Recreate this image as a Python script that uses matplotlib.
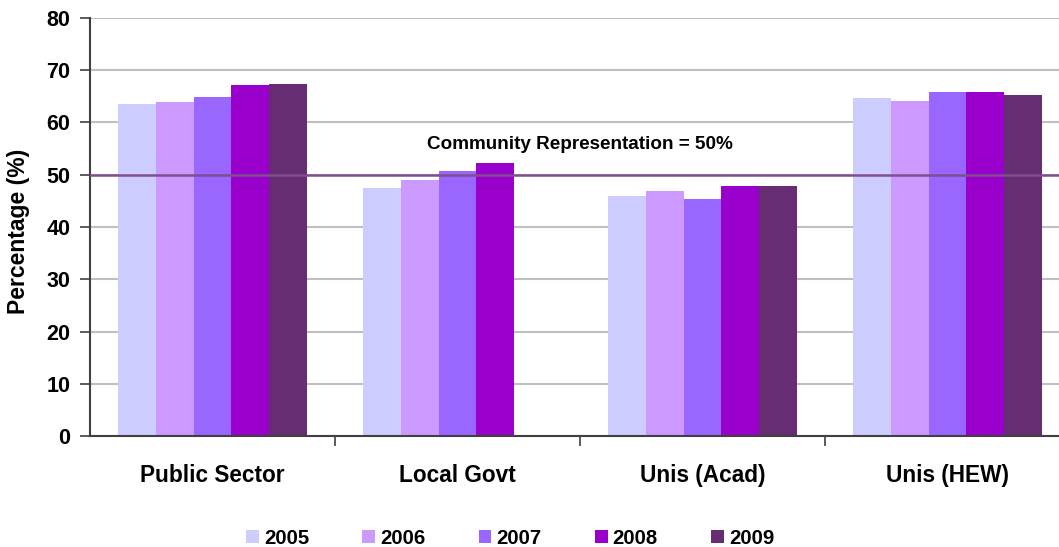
import matplotlib
matplotlib.use("Agg")
import matplotlib.pyplot as plt
import numpy as np
from matplotlib.patches import Patch

plt.rcParams["font.family"] = ["Liberation Sans", "DejaVu Sans"]
plt.rcParams["font.weight"] = "bold"

categories = ["Public Sector", "Local Govt", "Unis (Acad)", "Unis (HEW)"]
years = ["2005", "2006", "2007", "2008", "2009"]
v2005 = [63.6, 47.4, 45.9, 64.6]
v2006 = [64.0, 49.0, 46.9, 64.2]
v2007 = [64.8, 50.7, 45.3, 65.8]
v2008 = [67.1, 52.2, 47.8, 65.8]
v2009 = [67.3, np.nan, 47.8, 65.2]
series = [v2005, v2006, v2007, v2008, v2009]
colors = ["#CCCCFF", "#CC99FF", "#9966FF", "#9900CC", "#662D73"]
community = 50

W, H = 1059, 547
fig = plt.figure(figsize=(W / 100, H / 100), dpi=100)
# plot area runs a little past the right edge of the picture
left, right, bottom, top = 90, 1070, 436, 18
ax = fig.add_axes([left / W, 1 - bottom / H, (right - left) / W, (bottom - top) / H])

x = np.arange(len(categories))
bw = 0.1535
for i, (vals, c) in enumerate(zip(series, colors)):
    ax.bar(x + (i - 2) * bw, vals, width=bw, color=c, zorder=2)

ax.axhline(community, color="#7F4F8F", lw=1.8, zorder=3)
ax.text(1.5, 55.8, "Community Representation = 50%", ha="center", va="center",
        fontsize=13.6, fontweight="bold")

ax.set_xlim(-0.5, len(categories) - 0.5)
ax.set_ylim(0, 80)
ax.set_yticks(range(0, 81, 10))
ax.yaxis.grid(True, color="#BFBFBF", lw=1.5, zorder=0)
ax.set_axisbelow(True)

ax.set_xticks(x)
ax.set_xticklabels(categories, fontsize=16.3, fontweight="bold")
ax.set_xticks(np.arange(0.5, len(categories) - 0.5, 1), minor=True)
ax.tick_params(axis="x", which="major", length=0, pad=20)
ax.tick_params(axis="x", which="minor", length=7, width=1.2, color="#404040")
ax.tick_params(axis="y", length=7, width=1.2, color="#404040", labelsize=15.5, pad=7)
for lbl in ax.get_yticklabels():
    lbl.set_fontweight("bold")

for s in ("top", "right"):
    ax.spines[s].set_visible(False)
for s in ("left", "bottom"):
    ax.spines[s].set_color("#404040")
    ax.spines[s].set_linewidth(1.5)

ax.set_ylabel("Percentage (%)", fontsize=16.5, fontweight="bold")
ax.yaxis.set_label_coords(-0.061, 0.49)

handles = [Patch(facecolor=c, label=y) for c, y in zip(colors, years)]
fig.legend(handles=handles, loc="center", bbox_to_anchor=(510 / W, 1 - 538 / H),
           ncol=5, frameon=False, handlelength=0.63, handleheight=0.63,
           handletextpad=0.25, columnspacing=2.6, borderpad=0, borderaxespad=0,
           prop={"weight": "bold", "size": 14.7})

fig.savefig("out.png", dpi=100)
